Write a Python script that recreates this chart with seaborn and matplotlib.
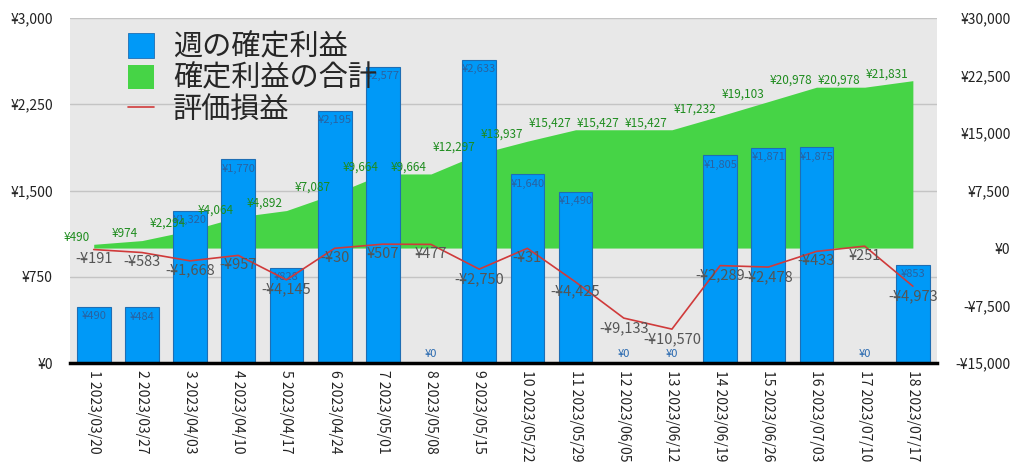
import numpy as np
import pandas as pd
import seaborn as sns
import matplotlib
matplotlib.use('Agg')
from matplotlib import pyplot as plt
from matplotlib.patches import Patch
from matplotlib.lines import Line2D

# ============================================================
# DATA
# ============================================================
weeks = ['1 2023/03/20', '2 2023/03/27', '3 2023/04/03', '4 2023/04/10', '5 2023/04/17',
         '6 2023/04/24', '7 2023/05/01', '8 2023/05/08', '9 2023/05/15', '10 2023/05/22',
         '11 2023/05/29', '12 2023/06/05', '13 2023/06/12', '14 2023/06/19', '15 2023/06/26',
         '16 2023/07/03', '17 2023/07/10', '18 2023/07/17']
weekly_profit = [490, 484, 1320, 1770, 828, 2195, 2577, 0, 2633, 1640, 1490, 0, 0, 1805, 1871, 1875, 0, 853]
total_profit = [490, 974, 2294, 4064, 4892, 7087, 9664, 9664, 12297, 13937, 15427, 15427, 15427,
                17232, 19103, 20978, 20978, 21831]
unrealized = [-191, -583, -1668, -957, -4145, -30, 507, 477, -2750, -31, -4425, -9133, -10570,
              -2289, -2478, -433, 251, -4973]
legend_labels = ['週の確定利益', '確定利益の合計', '評価損益']
left_ticks = [0, 750, 1500, 2250, 3000]
right_ticks = [-15000, -7500, 0, 7500, 15000, 22500, 30000]

df = pd.DataFrame({'week': weeks, 'weekly': weekly_profit, 'total': total_profit, 'unrealized': unrealized})
df['pos'] = np.arange(len(df))

BLUE = '#0099F7'
BLUE_EDGE = '#1E6EB4'
GREEN = '#46D446'
RED = '#D03A3A'


def yen(v):
    return f'-¥{abs(v):,.0f}' if v < 0 else f'¥{v:,.0f}'


sns.set_theme(style='white')
plt.rcParams['font.family'] = ['Noto Sans CJK JP', 'DejaVu Sans']

fig, ax = plt.subplots(figsize=(10.24, 4.74), dpi=100)
fig.subplots_adjust(left=0.068, right=0.915, top=0.962, bottom=0.234)

# 背景 + グリッド (一番下)
ax.set_facecolor('#E8E8E8')
ax.set_ylim(0, 3000)
ax.set_yticks(left_ticks)
ax.set_yticklabels([yen(t) for t in left_ticks])
ax.grid(axis='y', color='#C4C4C4', linewidth=1)
ax.set_zorder(0)

# 累計 (面グラフ)
ax_area = ax.twinx()
ax_area.set_zorder(1)
ax_area.fill_between(df['pos'], 0, df['total'], color=GREEN, linewidth=0)
ax_area.set_ylim(-15000, 30000)
ax_area.set_yticks(right_ticks)
ax_area.set_yticklabels([yen(t) for t in right_ticks])

# 週の確定利益 (棒)
ax_bar = ax.twinx()
ax_bar.set_zorder(2)
sns.barplot(data=df, x='pos', y='weekly', ax=ax_bar, color=BLUE, saturation=1,
            edgecolor=BLUE_EDGE, linewidth=0.8, width=0.7, native_scale=True)
ax_bar.set_ylim(0, 3000)
ax_bar.set_yticks([])
ax_bar.set_ylabel('')
for i, v in enumerate(weekly_profit):
    if v > 0:
        ax_bar.annotate(yen(v), (i, v), xytext=(0, -3), textcoords='offset points',
                        ha='center', va='top', fontsize=8, color='#2A62A0')
    else:
        ax_bar.annotate(yen(v), (i, v), xytext=(0, 3), textcoords='offset points',
                        ha='center', va='bottom', fontsize=8, color='#2A6AB0')

# 評価損益 (折れ線) + 累計ラベル (一番上)
ax_line = ax.twinx()
ax_line.set_zorder(3)
sns.lineplot(data=df, x='pos', y='unrealized', ax=ax_line, color=RED, linewidth=1.2)
ax_line.set_ylim(-15000, 30000)
ax_line.set_yticks([])
ax_line.set_ylabel('')
for i, v in enumerate(unrealized):
    ax_line.annotate(yen(v), (i, v), xytext=(0, -2), textcoords='offset points',
                     ha='center', va='top', fontsize=10.5, color='#555555')
for i, v in enumerate(total_profit):
    ax_line.annotate(yen(v), (i, v), xytext=(-3, 5), textcoords='offset points',
                     ha='right', va='center', fontsize=8.5, color='#1E8C1E')

# x軸
ax.set_xlim(-0.5, len(weeks) - 0.5)
ax.set_xticks(df['pos'])
ax.set_xticklabels(weeks, rotation=270, ha='center', va='top', fontsize=10, color='#222222')
ax.set_xlabel('')
ax.set_ylabel('')

ax.tick_params(axis='y', length=0, pad=12, labelsize=10, labelcolor='#222222')
ax.tick_params(axis='x', length=0, pad=5)
ax_area.tick_params(axis='y', length=0, pad=53, labelsize=10, labelcolor='#222222')
for lbl in ax_area.get_yticklabels():
    lbl.set_horizontalalignment('right')

for a in (ax, ax_area, ax_bar, ax_line):
    for s in a.spines.values():
        s.set_visible(False)
ax_line.spines['bottom'].set_visible(True)
ax_line.spines['bottom'].set_color('black')
ax_line.spines['bottom'].set_linewidth(2.5)

# 凡例
handles = [Patch(facecolor=BLUE, edgecolor=BLUE_EDGE, linewidth=0.6),
           Patch(facecolor=GREEN, edgecolor='none'),
           Line2D([0], [0], color=RED, linewidth=1.2)]
ax_line.legend(handles, legend_labels, loc='upper left', bbox_to_anchor=(0.067, 0.958),
               frameon=False, fontsize=21, handlelength=0.9, handleheight=0.9,
               handletextpad=0.65, labelspacing=0.04, borderpad=0, borderaxespad=0)

plt.savefig('out.png', dpi=100)
